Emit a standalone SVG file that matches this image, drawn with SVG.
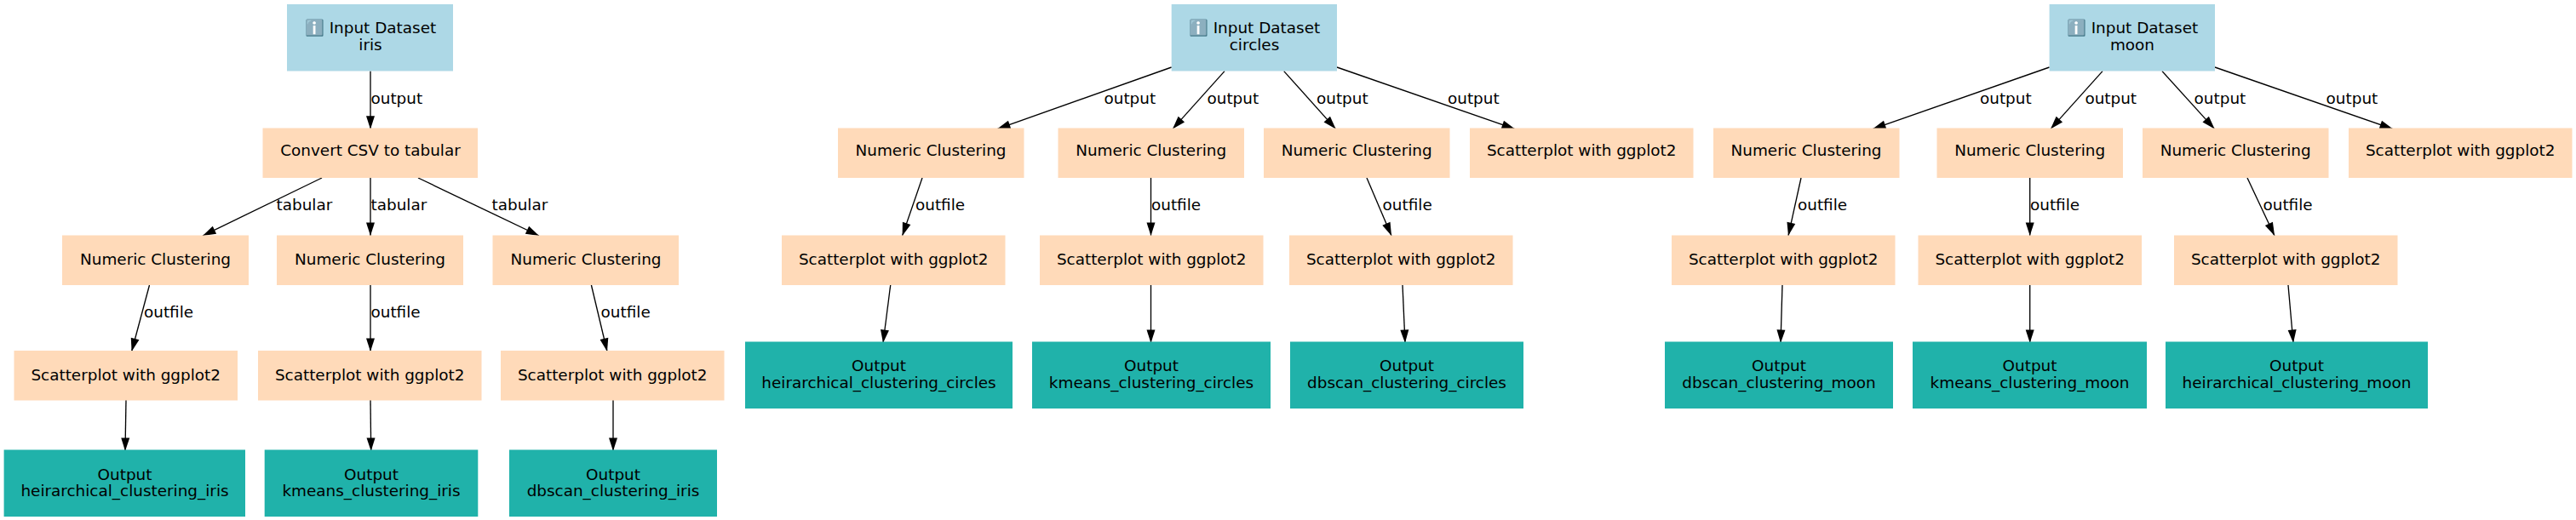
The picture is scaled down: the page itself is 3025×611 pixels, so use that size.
<svg xmlns="http://www.w3.org/2000/svg" width="3025" height="611" viewBox="0 0 3025 611">
<style>
text{font-family:"DejaVu Sans",sans-serif;font-size:18.4px;fill:#000}
.n text{text-anchor:middle}
.in{fill:#add8e6}.tool{fill:#ffdab9}.out{fill:#20b2aa}
#connectors line{stroke:#000;stroke-width:1.33;marker-end:url(#arr)}
</style>
<defs><marker id="arr" markerUnits="userSpaceOnUse" markerWidth="17" markerHeight="12" refX="16" refY="6" orient="auto"><path d="M0.5 1 16 6 0.5 11Z" fill="#000"/></marker></defs>
<rect width="3025" height="611" fill="#fff"/>
<g id="connectors">
<line x1="435" y1="83.6" x2="435" y2="151.7"/>
<line x1="378" y1="209" x2="238" y2="277"/>
<line x1="435" y1="209" x2="435" y2="277"/>
<line x1="491" y1="209" x2="633" y2="277"/>
<line x1="175.5" y1="335" x2="154.6" y2="413"/>
<line x1="435" y1="335" x2="435" y2="413"/>
<line x1="694.4" y1="335" x2="713" y2="413"/>
<line x1="148" y1="470" x2="147" y2="530"/>
<line x1="435" y1="470" x2="435.7" y2="530"/>
<line x1="720" y1="470" x2="720" y2="530"/>
<line x1="1375.7" y1="79" x2="1171" y2="151.6"/>
<line x1="1438" y1="83.6" x2="1377" y2="151.6"/>
<line x1="1507.7" y1="83.6" x2="1568.6" y2="151.6"/>
<line x1="1570" y1="79" x2="1779" y2="151.6"/>
<line x1="1083" y1="209" x2="1059.6" y2="277"/>
<line x1="1351.5" y1="209" x2="1351.5" y2="277"/>
<line x1="1605" y1="209" x2="1634" y2="277"/>
<line x1="1045.7" y1="335" x2="1037" y2="403"/>
<line x1="1351.5" y1="335" x2="1351.5" y2="403"/>
<line x1="1647" y1="335" x2="1650" y2="403"/>
<line x1="2406.6" y1="79" x2="2199" y2="151.6"/>
<line x1="2469" y1="83.6" x2="2408" y2="151.6"/>
<line x1="2539" y1="83.6" x2="2600.6" y2="151.6"/>
<line x1="2601" y1="79" x2="2810" y2="151.6"/>
<line x1="2115" y1="209" x2="2100" y2="277"/>
<line x1="2383.7" y1="209" x2="2383.7" y2="277"/>
<line x1="2639" y1="209" x2="2671" y2="277"/>
<line x1="2093" y1="335" x2="2091" y2="403"/>
<line x1="2383.7" y1="335" x2="2383.7" y2="403"/>
<line x1="2687" y1="335" x2="2693" y2="403"/>
<text x="435.5" y="122">output</text>
<text x="324.5" y="246.5">tabular</text><text x="435.5" y="246.5">tabular</text><text x="577.5" y="246.5">tabular</text>
<text x="169" y="372.5">outfile</text><text x="435.5" y="372.5">outfile</text><text x="705.6" y="372.5">outfile</text>
<text x="1296.5" y="122">output</text><text x="1417.5" y="122">output</text><text x="1546" y="122">output</text><text x="1700" y="122">output</text>
<text x="1075" y="246.5">outfile</text><text x="1352" y="246.5">outfile</text><text x="1623.6" y="246.5">outfile</text>
<text x="2325" y="122">output</text><text x="2448.4" y="122">output</text><text x="2576.6" y="122">output</text><text x="2731.6" y="122">output</text>
<text x="2111" y="246.5">outfile</text><text x="2384" y="246.5">outfile</text><text x="2657.5" y="246.5">outfile</text>
</g>
<g id="n_iris_input" class="n"><rect class="in" x="337" y="5" width="195" height="78.5"/><text x="435" y="39.3">ℹ️ Input Dataset</text><text x="435" y="58.7">iris</text></g>
<g id="n_iris_convert" class="n"><rect class="tool" x="308.5" y="150.5" width="252.5" height="58.5"/><text x="435" y="183.3">Convert CSV to tabular</text></g>
<g id="n_iris_num1" class="n"><rect class="tool" x="73" y="276.5" width="219" height="58.5"/><text x="182.5" y="311">Numeric Clustering</text></g>
<g id="n_iris_num2" class="n"><rect class="tool" x="325" y="276.5" width="219" height="58.5"/><text x="434.5" y="311">Numeric Clustering</text></g>
<g id="n_iris_num3" class="n"><rect class="tool" x="578.5" y="276.5" width="218.5" height="58.5"/><text x="688" y="311">Numeric Clustering</text></g>
<g id="n_iris_sc1" class="n"><rect class="tool" x="16.5" y="412" width="262.5" height="58.5"/><text x="147.7" y="446.5">Scatterplot with ggplot2</text></g>
<g id="n_iris_sc2" class="n"><rect class="tool" x="303" y="412" width="262.5" height="58.5"/><text x="434.2" y="446.5">Scatterplot with ggplot2</text></g>
<g id="n_iris_sc3" class="n"><rect class="tool" x="588" y="412" width="262.5" height="58.5"/><text x="719.2" y="446.5">Scatterplot with ggplot2</text></g>
<g id="n_iris_o1" class="n"><rect class="out" x="4.6" y="528.5" width="283.4" height="78.5"/><text x="146.5" y="563.7">Output</text><text x="146.5" y="583">heirarchical_clustering_iris</text></g>
<g id="n_iris_o2" class="n"><rect class="out" x="310.7" y="528.5" width="250.6" height="78.5"/><text x="436" y="563.7">Output</text><text x="436" y="583">kmeans_clustering_iris</text></g>
<g id="n_iris_o3" class="n"><rect class="out" x="598" y="528.5" width="244" height="78.5"/><text x="720" y="563.7">Output</text><text x="720" y="583">dbscan_clustering_iris</text></g>
<g id="n_circ_input" class="n"><rect class="in" x="1375.7" y="5" width="194.3" height="78.5"/><text x="1473" y="39.3">ℹ️ Input Dataset</text><text x="1473" y="58.7">circles</text></g>
<g id="n_circ_num1" class="n"><rect class="tool" x="984" y="150.5" width="218.5" height="58.5"/><text x="1093" y="183.3">Numeric Clustering</text></g>
<g id="n_circ_num2" class="n"><rect class="tool" x="1242.5" y="150.5" width="218.5" height="58.5"/><text x="1351.7" y="183.3">Numeric Clustering</text></g>
<g id="n_circ_num3" class="n"><rect class="tool" x="1484" y="150.5" width="218.5" height="58.5"/><text x="1593.2" y="183.3">Numeric Clustering</text></g>
<g id="n_circ_sc0" class="n"><rect class="tool" x="1726" y="150.5" width="262.5" height="58.5"/><text x="1857.2" y="183.3">Scatterplot with ggplot2</text></g>
<g id="n_circ_sc1" class="n"><rect class="tool" x="918" y="276.5" width="262.5" height="58.5"/><text x="1049.2" y="311">Scatterplot with ggplot2</text></g>
<g id="n_circ_sc2" class="n"><rect class="tool" x="1221" y="276.5" width="262.5" height="58.5"/><text x="1352.2" y="311">Scatterplot with ggplot2</text></g>
<g id="n_circ_sc3" class="n"><rect class="tool" x="1514" y="276.5" width="262.5" height="58.5"/><text x="1645.2" y="311">Scatterplot with ggplot2</text></g>
<g id="n_circ_o1" class="n"><rect class="out" x="875" y="401.5" width="314" height="78.5"/><text x="1032" y="436.3">Output</text><text x="1032" y="456">heirarchical_clustering_circles</text></g>
<g id="n_circ_o2" class="n"><rect class="out" x="1212" y="401.5" width="280" height="78.5"/><text x="1352" y="436.3">Output</text><text x="1352" y="456">kmeans_clustering_circles</text></g>
<g id="n_circ_o3" class="n"><rect class="out" x="1515" y="401.5" width="274" height="78.5"/><text x="1652" y="436.3">Output</text><text x="1652" y="456">dbscan_clustering_circles</text></g>
<g id="n_moon_input" class="n"><rect class="in" x="2406.6" y="5" width="194.4" height="78.5"/><text x="2504" y="39.3">ℹ️ Input Dataset</text><text x="2504" y="58.7">moon</text></g>
<g id="n_moon_num1" class="n"><rect class="tool" x="2012" y="150.5" width="218.5" height="58.5"/><text x="2121" y="183.3">Numeric Clustering</text></g>
<g id="n_moon_num2" class="n"><rect class="tool" x="2274.5" y="150.5" width="218.5" height="58.5"/><text x="2383.7" y="183.3">Numeric Clustering</text></g>
<g id="n_moon_num3" class="n"><rect class="tool" x="2516" y="150.5" width="218.5" height="58.5"/><text x="2625.2" y="183.3">Numeric Clustering</text></g>
<g id="n_moon_sc0" class="n"><rect class="tool" x="2758" y="150.5" width="262.5" height="58.5"/><text x="2889.2" y="183.3">Scatterplot with ggplot2</text></g>
<g id="n_moon_sc1" class="n"><rect class="tool" x="1963" y="276.5" width="262.5" height="58.5"/><text x="2094.2" y="311">Scatterplot with ggplot2</text></g>
<g id="n_moon_sc2" class="n"><rect class="tool" x="2252.5" y="276.5" width="262.5" height="58.5"/><text x="2383.7" y="311">Scatterplot with ggplot2</text></g>
<g id="n_moon_sc3" class="n"><rect class="tool" x="2553" y="276.5" width="262.5" height="58.5"/><text x="2684.2" y="311">Scatterplot with ggplot2</text></g>
<g id="n_moon_o1" class="n"><rect class="out" x="1955" y="401.5" width="268" height="78.5"/><text x="2089" y="436.3">Output</text><text x="2089" y="456">dbscan_clustering_moon</text></g>
<g id="n_moon_o2" class="n"><rect class="out" x="2246" y="401.5" width="275" height="78.5"/><text x="2383.5" y="436.3">Output</text><text x="2383.5" y="456">kmeans_clustering_moon</text></g>
<g id="n_moon_o3" class="n"><rect class="out" x="2543" y="401.5" width="308" height="78.5"/><text x="2697" y="436.3">Output</text><text x="2697" y="456">heirarchical_clustering_moon</text></g>
</svg>
